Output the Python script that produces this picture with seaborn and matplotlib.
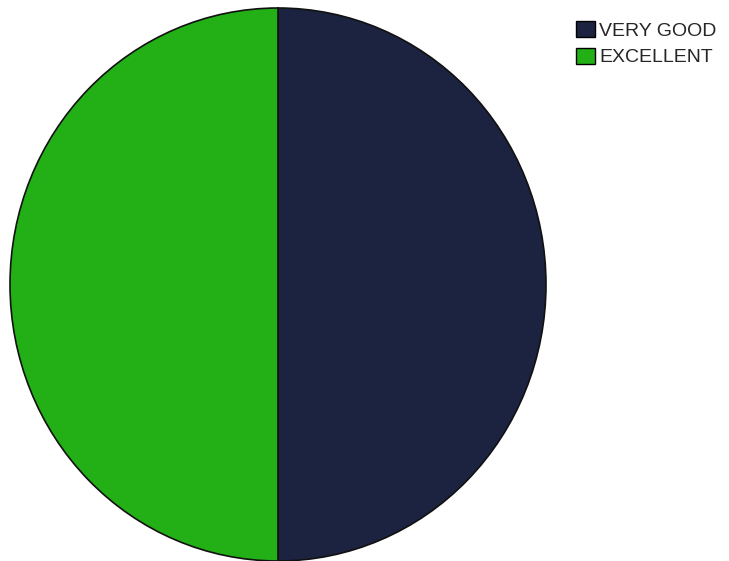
import pandas as pd
import seaborn as sns
import matplotlib.pyplot as plt
from matplotlib.patches import Patch

sns.set_style("white")
plt.rcParams['font.family'] = ['Liberation Sans', 'DejaVu Sans']

# data
categories = ["VERY GOOD", "EXCELLENT"]
counts = [50, 50]
colors = ["#1b2340", "#23b016"]

df = pd.DataFrame({"rating": categories, "count": counts})

fig = plt.figure(figsize=(7.29, 5.61), dpi=100)
ax = fig.add_axes([10 / 729, 0.0, 536 / 729, 553 / 561])

wedges, _ = ax.pie(
    df["count"],
    colors=sns.color_palette(colors),
    startangle=90,
    counterclock=False,
    wedgeprops=dict(edgecolor="#111111", linewidth=1.2),
)
ax.set_aspect("auto")
ax.set_xlim(-1, 1)
ax.set_ylim(-1, 1)
ax.axis("off")

handles = [Patch(facecolor=c, edgecolor="black", linewidth=1) for c in colors]
fig.legend(
    handles, df["rating"], loc="upper left", bbox_to_anchor=(576 / 729, 1 - 21 / 561),
    frameon=False, fontsize=14, handlelength=0.98, handleheight=0.9,
    handletextpad=0.2, labelspacing=0.4, borderpad=0, borderaxespad=0,
)

fig.savefig("out.png", dpi=100)
